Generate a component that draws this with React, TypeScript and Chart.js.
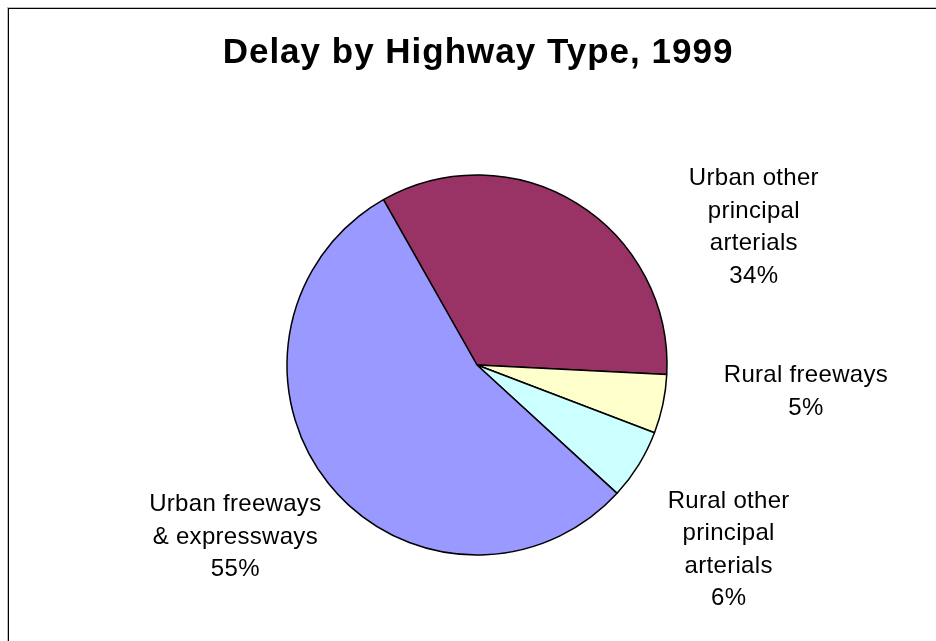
import React, { useEffect, useRef } from "react";
import { Chart, registerables } from "chart.js";

Chart.register(...registerables);

const titleText = "Delay by Highway Type, 1999";
const categories = [
  "Urban other principal arterials",
  "Rural freeways",
  "Rural other principal arterials",
  "Urban freeways & expressways",
];
const labelLines = [
  ["Urban other", "principal", "arterials"],
  ["Rural freeways"],
  ["Rural other", "principal", "arterials"],
  ["Urban freeways", "& expressways"],
];
const values = [34, 5, 6, 55];
const colors = ["#993366", "#FFFFCC", "#CCFFFF", "#9999FF"];
// per-label shift from the slice's outer mid-point (label placement like Excel)
const labelShift = [
  [177, -18],
  [143, -22],
  [90, 43],
  [-93, 28],
];

const FONT = "'Liberation Sans', Arial, sans-serif";

const titlePlugin = {
  id: "customTitle",
  afterDraw(chart: any) {
    const ctx = chart.ctx;
    const ca = chart.chartArea;
    ctx.save();
    ctx.font = `bold 35px ${FONT}`;
    (ctx as any).letterSpacing = "1px";
    ctx.fillStyle = "#000";
    ctx.textAlign = "center";
    ctx.textBaseline = "alphabetic";
    ctx.fillText(titleText, (ca.left + ca.right) / 2 + 1, 63);
    ctx.restore();
  },
};

const sliceLabelPlugin = {
  id: "sliceLabels",
  afterDatasetsDraw(chart: any) {
    const ctx = chart.ctx;
    const meta = chart.getDatasetMeta(0);
    const data = chart.data.datasets[0].data as number[];
    const total = data.reduce((a, b) => a + b, 0);
    ctx.save();
    ctx.font = `24px ${FONT}`;
    (ctx as any).letterSpacing = "0.3px";
    ctx.fillStyle = "#000";
    ctx.textAlign = "center";
    ctx.textBaseline = "alphabetic";
    meta.data.forEach((arc: any, i: number) => {
      const p = arc.getProps(["x", "y", "startAngle", "endAngle", "outerRadius"], true);
      const mid = (p.startAngle + p.endAngle) / 2;
      const ax = p.x + Math.cos(mid) * p.outerRadius;
      const ay = p.y + Math.sin(mid) * p.outerRadius;
      const x = ax + labelShift[i][0];
      let y = ay + labelShift[i][1];
      const lines = [...labelLines[i], Math.round((data[i] / total) * 100) + "%"];
      lines.forEach((ln) => {
        ctx.fillText(ln, x, y);
        y += 32.5;
      });
    });
    ctx.restore();
  },
};

export default function App() {
  const ref = useRef<HTMLCanvasElement>(null);
  useEffect(() => {
    if (!ref.current) return;
    const chart = new Chart(ref.current, {
      type: "pie",
      data: {
        labels: categories,
        datasets: [
          {
            data: values,
            backgroundColor: colors,
            borderColor: "#000",
            borderWidth: 1.5,
            hoverOffset: 0,
            offset: 0,
          },
        ],
      },
      options: {
        responsive: false,
        animation: false,
        rotation: -29.5,
        radius: 190,
        layout: { padding: { left: 18, right: 0, top: 89, bottom: 0 } },
        plugins: {
          legend: { display: false },
          title: { display: false },
          tooltip: { enabled: false },
        },
        events: [],
      },
      plugins: [titlePlugin, sliceLabelPlugin],
    });
    return () => chart.destroy();
  }, []);
  return (
    <>
      <div
        style={{
          position: "fixed",
          left: 8,
          top: 8,
          width: 1000,
          height: 1000,
          borderLeft: "1px solid #000",
          borderTop: "1px solid #000",
          boxShadow: "-1px -1px 0 0 #bdbdbd",
          pointerEvents: "none",
        }}
      />
      <canvas
        ref={ref}
        width={936}
        height={641}
        style={{ position: "fixed", left: 0, top: 0, width: 936, height: 641 }}
      />
    </>
  );
}
